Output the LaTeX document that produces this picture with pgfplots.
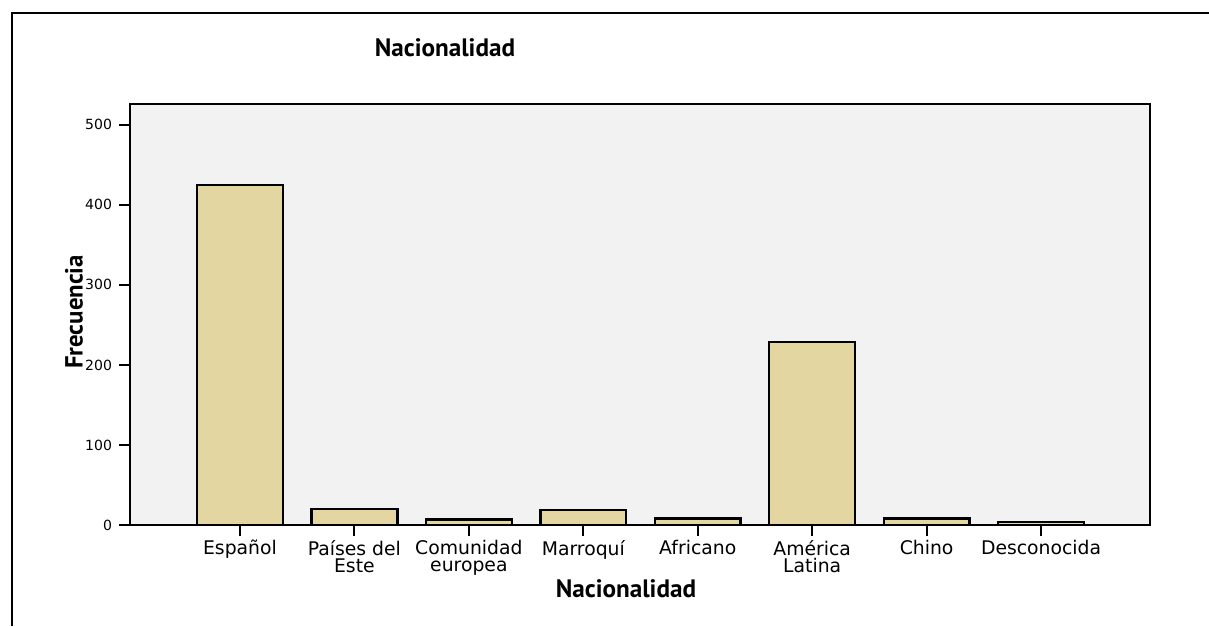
\documentclass[border=0pt]{standalone}
\usepackage{fontspec}
\setmainfont{DejaVu Sans}
\newfontfamily\labfont{PT Sans}
\usepackage{pgfplots}
\pgfplotsset{compat=1.18}
\definecolor{barfill}{RGB}{227,214,161}
\definecolor{plotbg}{RGB}{242,242,242}

\begin{document}
\begin{tikzpicture}[x=1pt,y=1pt]
\path[use as bounding box] (0,0) rectangle (604.5,313);
% outer frame (top and left only)
\draw[line width=1pt] (6,0) -- (6,306.5) -- (604.5,306.5);
\begin{axis}[
    at={(65pt,50.5pt)}, anchor=south west,
    scale only axis, width=510pt, height=210.5pt,
    xmin=-0.961, xmax=7.952, ymin=0, ymax=526,
    ytick={0,100,...,500},
    xtick={0,...,7},
    xticklabels={Español,{Países del\\Este},{Comunidad\\europea},Marroquí,Africano,{América\\Latina},Chino,Desconocida},
    xticklabel style={font=\fontsize{9.4}{8.6}\selectfont, align=center, yshift=1.5pt},
    yticklabel style={font=\fontsize{7}{8}\selectfont},
    /pgf/number format/assume math mode=true,
    axis background/.style={fill=plotbg},
    axis line style={line width=0.8pt},
    tick align=outside, xtick pos=bottom, ytick pos=left,
    major tick length=5.5pt,
    tick style={black, line width=1pt},
    ybar, bar width=0.75,
]
\addplot[fill=barfill, draw=black, line width=1.2pt] coordinates {
    (0,425) (1,20) (2,7) (3,19) (4,8) (5,229) (6,8) (7,4)
};
\end{axis}
\node[font=\labfont\bfseries\fontsize{12.6}{14}\selectfont, anchor=base] at (222.5,284.5) {Nacionalidad};
\node[font=\labfont\bfseries\fontsize{12.6}{14}\selectfont, anchor=base] at (313,14) {Nacionalidad};
\node[font=\labfont\bfseries\fontsize{12.4}{14}\selectfont, rotate=90] at (37,157) {Frecuencia};
\end{tikzpicture}
\end{document}
